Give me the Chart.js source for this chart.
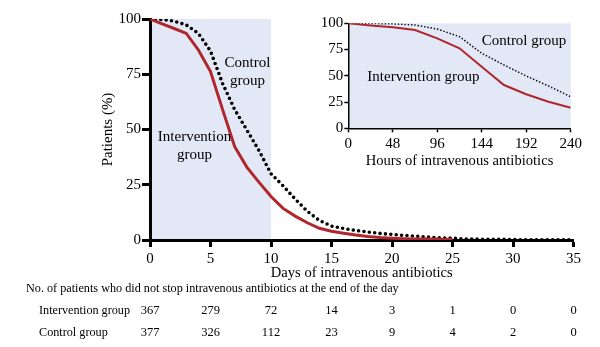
<!DOCTYPE html>
<html>
<head>
<meta charset="utf-8">
<script src="https://cdn.jsdelivr.net/npm/chart.js@4.4.1/dist/chart.umd.min.js"></script>
<style>
  html, body { margin: 0; padding: 0; background: #fff; }
  #wrap { position: relative; width: 600px; height: 347px; }
  #mainChart { position: absolute; left: 0; top: 0; }
  #insetChart { position: absolute; left: 300px; top: 0; }
</style>
</head>
<body>
<div id="wrap">
  <canvas id="mainChart" width="600" height="347"></canvas>
  <canvas id="insetChart" width="300" height="175"></canvas>
</div>
<script>
// main chart data (days)
const days = [0, 1, 2, 3, 4, 5, 6, 7, 8, 9, 10, 11, 12, 13, 14, 15, 16, 17, 18, 19, 20,
  21, 22, 23, 24, 25, 26, 27, 28, 29, 30, 31, 32, 33, 34, 35];
const interventionPct = [100, 97.8, 95.7, 93.5, 86, 76.2, 59, 42.2, 33, 26.2, 19.7,
  14.3, 10.8, 7.8, 5.3, 4, 3.1, 2.3, 1.6, 1.1, 0.8, 0.6, 0.5, 0.4, 0.3, 0.27];
const controlPct = [100, 99.8, 99, 97.3, 93.5, 85.5, 70.8, 59, 49.8, 40.5, 30,
  24.5, 18.5, 13, 8.8, 6.3, 5.2, 4.3, 3.6, 3.0, 2.5, 2.1, 1.7, 1.3, 1.0, 0.8,
  0.5, 0.4, 0.3, 0.3, 0.2, 0.1, 0.1, 0.1, 0.1, 0];

// inset data (hours)
const hours = [0, 24, 48, 72, 96, 120, 144, 168, 192, 216, 240];
const insetIntervention = [100, 98, 96.2, 93.6, 85.7, 76.2, 58.7, 41.2, 32.4, 25.3, 19.6];
const insetControl = [100, 99.8, 99.5, 98.4, 94.5, 87.3, 71.4, 60.3, 49.8, 40.3, 30.1];

// numbers at risk table
const tableDays = [0, 5, 10, 15, 20, 25, 30, 35];
const interventionAtRisk = [367, 279, 72, 14, 3, 1, 0, 0];
const controlAtRisk = [377, 326, 112, 23, 9, 4, 2, 0];

const SERIF = '"Liberation Serif", "Times New Roman", serif';
const RED = '#b0262d';
const SHADE = '#e3e8f6';

function pts(xs, ys) {
  return ys.map((y, i) => ({ x: xs[i], y: y }));
}

// shaded block behind the data
const shadePlugin = {
  id: 'shade',
  beforeDraw(chart, args, opts) {
    const { ctx, scales: { x, y } } = chart;
    const x0 = x.getPixelForValue(opts.from);
    const x1 = x.getPixelForValue(opts.to);
    const y0 = y.getPixelForValue(100);
    const y1 = y.getPixelForValue(0);
    ctx.save();
    ctx.fillStyle = SHADE;
    ctx.fillRect(x0, y0, x1 - x0, y1 - y0);
    ctx.restore();
  }
};

// text labels placed at data coordinates
const labelPlugin = {
  id: 'labels',
  afterDraw(chart, args, opts) {
    const { ctx, scales: { x, y } } = chart;
    ctx.save();
    ctx.fillStyle = '#000';
    ctx.textAlign = 'center';
    ctx.textBaseline = 'middle';
    ctx.font = opts.font;
    opts.items.forEach(it => {
      ctx.fillText(it.text, x.getPixelForValue(it.x), y.getPixelForValue(it.y));
    });
    ctx.restore();
  }
};

// number at risk table under the main chart
const tablePlugin = {
  id: 'riskTable',
  afterDraw(chart) {
    const { ctx, scales: { x } } = chart;
    ctx.save();
    ctx.fillStyle = '#000';
    ctx.textBaseline = 'middle';
    ctx.font = '12.2px ' + SERIF;
    ctx.textAlign = 'left';
    ctx.fillText('No. of patients who did not stop intravenous antibiotics at the end of the day', 26, 289);
    ctx.font = '12.2px ' + SERIF;
    ctx.fillText('Intervention group', 39, 311);
    ctx.fillText('Control group', 39, 332.5);
    ctx.font = '12.5px ' + SERIF;
    ctx.textAlign = 'center';
    tableDays.forEach((d, i) => {
      const px = x.getPixelForValue(d);
      ctx.fillText(String(interventionAtRisk[i]), px, 311);
      ctx.fillText(String(controlAtRisk[i]), px, 332.5);
    });
    ctx.restore();
  }
};

new Chart(document.getElementById('mainChart'), {
  type: 'line',
  data: {
    datasets: [{
      label: 'Intervention group',
      data: pts(days, interventionPct),
      borderColor: RED,
      borderWidth: 3,
      pointRadius: 0,
      tension: 0
    }, {
      label: 'Control group',
      data: pts(days, controlPct),
      borderColor: '#000',
      borderWidth: 3.6,
      borderDash: [0, 5.4],
      borderCapStyle: 'round',
      pointRadius: 0,
      tension: 0
    }]
  },
  options: {
    responsive: false,
    animation: false,
    layout: { padding: { left: 99, top: 19, right: 26.5, bottom: 65.5 } },
    plugins: {
      legend: { display: false },
      tooltip: { enabled: false },
      shade: { from: 0, to: 10 },
      labels: {
        font: '15px ' + SERIF,
        items: [
          { text: 'Control', x: 8.06, y: 80.2 },
          { text: 'group', x: 8.06, y: 71.9 },
          { text: 'Intervention', x: 3.68, y: 46.7 },
          { text: 'group', x: 3.68, y: 38.4 }
        ]
      }
    },
    scales: {
      x: {
        type: 'linear',
        min: 0, max: 35,
        ticks: { stepSize: 5, color: '#000', padding: 3, maxRotation: 0,
          font: { family: SERIF, size: 15 } },
        grid: { drawOnChartArea: false, tickLength: 7, tickWidth: 3, tickColor: '#000' },
        border: { width: 3, color: '#000' },
        title: { display: true, text: 'Days of intravenous antibiotics', color: '#000',
          padding: 0, font: { family: SERIF, size: 14.6 } },
        afterFit(scale) { scale.height = 41.5; }
      },
      y: {
        min: 0, max: 100,
        ticks: { stepSize: 25, color: '#000', padding: 1,
          font: { family: SERIF, size: 15 } },
        grid: { drawOnChartArea: false, tickLength: 8, tickWidth: 3, tickColor: '#000' },
        border: { width: 3, color: '#000' },
        title: { display: true, text: 'Patients (%)', color: '#000',
          padding: 0, font: { family: SERIF, size: 15 } },
        afterFit(scale) { scale.width = 51; }
      }
    }
  },
  plugins: [shadePlugin, labelPlugin, tablePlugin]
});

new Chart(document.getElementById('insetChart'), {
  type: 'line',
  data: {
    datasets: [{
      label: 'Intervention group',
      data: pts(hours, insetIntervention),
      borderColor: RED,
      borderWidth: 2,
      pointRadius: 0,
      tension: 0
    }, {
      label: 'Control group',
      data: pts(hours, insetControl),
      borderColor: '#111',
      borderWidth: 1.5,
      borderDash: [1.5, 1.8],
      pointRadius: 0,
      tension: 0
    }]
  },
  options: {
    responsive: false,
    animation: false,
    layout: { padding: { left: 0, top: 23.3, right: 29.3, bottom: 5 } },
    plugins: {
      legend: { display: false },
      tooltip: { enabled: false },
      shade: { from: 0, to: 240 },
      labels: {
        font: '15px ' + SERIF,
        items: [
          { text: 'Control group', x: 189.6, y: 83.1 },
          { text: 'Intervention group', x: 81, y: 49.1 }
        ]
      }
    },
    scales: {
      x: {
        type: 'linear',
        min: 0, max: 240,
        ticks: { stepSize: 48, color: '#000', padding: 3, maxRotation: 0,
          font: { family: SERIF, size: 15 } },
        grid: { drawOnChartArea: false, tickLength: 4, tickWidth: 1.5, tickColor: '#000' },
        border: { width: 1.5, color: '#000' },
        title: { display: true, text: 'Hours of intravenous antibiotics', color: '#000',
          padding: 0, font: { family: SERIF, size: 14.6 } },
        afterFit(scale) { scale.height = 41.7; }
      },
      y: {
        min: 0, max: 100,
        ticks: { stepSize: 25, color: '#000', padding: 1,
          font: { family: SERIF, size: 15 } },
        grid: { drawOnChartArea: false, tickLength: 4, tickWidth: 1.5, tickColor: '#000' },
        border: { width: 1.5, color: '#000' },
        afterFit(scale) { scale.width = 48.3; }
      }
    }
  },
  plugins: [shadePlugin, labelPlugin]
});
</script>
</body>
</html>
